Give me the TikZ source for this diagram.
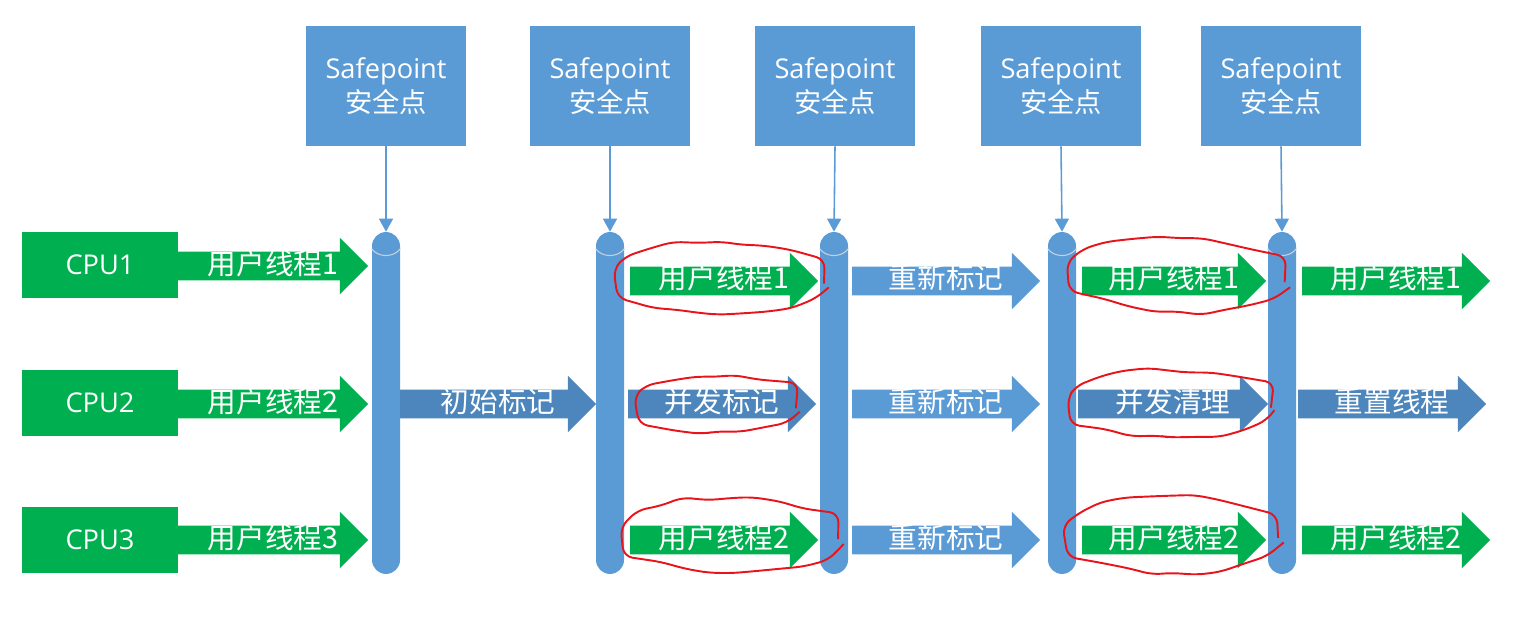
\documentclass[tikz,border=0pt]{standalone}
\usepackage{fontspec}
\setmainfont{Open Sans}
\newfontfamily\cjk{Noto Sans CJK SC}
\usepackage{tikz}
\usetikzlibrary{arrows.meta,shapes.arrows,decorations.pathmorphing}

\definecolor{sblue}{RGB}{91,155,213}
\definecolor{dblue}{RGB}{76,134,188}
\definecolor{cgreen}{RGB}{0,176,80}
\definecolor{mred}{RGB}{232,20,28}
\definecolor{capgray}{RGB}{200,210,222}

\begin{document}
\begin{tikzpicture}[
  x=0.02cm, y=-0.02cm,
  font=\fontsize{15.5pt}{18pt}\selectfont,
  every node/.style={align=center, text=white},
  sp/.style    ={rectangle, fill=sblue, minimum width=3.2cm, minimum height=2.4cm,
                 font=\fontsize{15.5pt}{19pt}\selectfont},
  cpu/.style   ={rectangle, fill=cgreen, minimum width=3.12cm, minimum height=1.32cm},
  pillar/.style={rectangle, rounded corners=0.28cm, fill=sblue,
                 minimum width=0.56cm, minimum height=6.84cm, inner sep=0pt},
  blk/.style   ={single arrow, single arrow head extend=0.28cm, inner sep=0pt,
                 text height=0.44cm, text depth=0.12cm, minimum height=3.76cm,
                 xshift=-0.14cm, execute at begin node=\hspace*{0.28cm},
                 font=\cjk\fontsize{16.3pt}{18pt}\selectfont},
  gthr/.style  ={blk, fill=cgreen},
  lphase/.style={blk, fill=sblue},
  dphase/.style={blk, fill=dblue},
  capline/.style={draw=capgray, line width=0.6pt},
  down/.style  ={draw=sblue, line width=0.9pt, -{Triangle[width=0.28cm,length=0.26cm]}},
  redmark/.style={draw=mred, line width=1.1pt, rounded corners=5pt,
                  decorate, decoration={random steps, segment length=14pt, amplitude=1.4pt}},
]
\useasboundingbox (0,0) rectangle (1533,628);

% Safepoints along the top
\foreach \i/\x in {1/386, 2/610, 3/835, 4/1061, 5/1281}
  \node[sp] (s\i) at (\x,86) {Safepoint\\{\cjk 安全点}};

% Pillars
\foreach \i/\x in {1/386, 2/610, 3/834, 4/1062, 5/1282} {
  \node[pillar] (p\i) at (\x,403) {};
  \draw[capline] ([yshift=-0.34cm]p\i.north west) to[bend right=55] ([yshift=-0.34cm]p\i.north east);
  \draw[down] (s\i.south) -- (p\i.north);
}

% CPUs and first user threads
\node[cpu] (cpu1) at (100,265) {CPU1};
\node[cpu] (cpu2) at (100,403) {CPU2};
\node[cpu] (cpu3) at (100,540) {CPU3};
\node[gthr, minimum height=3.8cm] (u11) at (273,266) {用户线程1};
\node[gthr, minimum height=3.8cm] (u12) at (273,404) {用户线程2};
\node[gthr, minimum height=3.8cm] (u13) at (273,540) {用户线程3};

% Between safepoints 1 and 2
\node[dphase, minimum height=3.92cm] (init) at (498,404) {初始标记};

% Between safepoints 2 and 3
\node[gthr]   (u21)  at (724,281) {用户线程1};
\node[dphase] (conc) at (722,404) {并发标记};
\node[gthr]   (u23)  at (724,540) {用户线程2};

% Between safepoints 3 and 4
\node[lphase] (re1) at (946,281) {重新标记};
\node[lphase] (re2) at (946,404) {重新标记};
\node[lphase] (re3) at (946,540) {重新标记};

% Between safepoints 4 and 5
\node[gthr, minimum height=3.68cm] (u41)   at (1174,281) {用户线程1};
\node[dphase, minimum height=3.8cm] (sweep) at (1173,404) {并发清理};
\node[gthr, minimum height=3.68cm] (u43)   at (1174,540) {用户线程2};

% After safepoint 5
\node[gthr]   (u51)   at (1396,281) {用户线程1};
\node[dphase] (reset) at (1392,404) {重置线程};
\node[gthr]   (u53)   at (1396,540) {用户线程2};

% Hand-drawn red marks
\pgfmathsetseed{7}
\draw[redmark, rotate around={-3:(u21.center)}] ([xshift=0.08cm, yshift=0.06cm]u21.center) ellipse [x radius=2.06cm, y radius=0.72cm];
\draw[redmark, rotate around={-3:(conc.center)}] ([xshift=0.04cm]conc.center) ellipse [x radius=1.58cm, y radius=0.54cm];
\draw[redmark, rotate around={-2:(u23.center)}] ([xshift=0.3cm, yshift=0.1cm]u23.center) ellipse [x radius=2.12cm, y radius=0.74cm];
\draw[redmark, rotate around={-4:(u41.center)}] ([xshift=0.22cm, yshift=0.14cm]u41.center) ellipse [x radius=2.13cm, y radius=0.72cm];
\draw[redmark, rotate around={-2:(sweep.center)}] ([xshift=0.1cm]sweep.center) ellipse [x radius=2.0cm, y radius=0.66cm];
\draw[redmark, rotate around={-2:(u43.center)}] ([xshift=0.12cm, yshift=0.12cm]u43.center) ellipse [x radius=2.1cm, y radius=0.76cm];

\end{tikzpicture}
\end{document}
